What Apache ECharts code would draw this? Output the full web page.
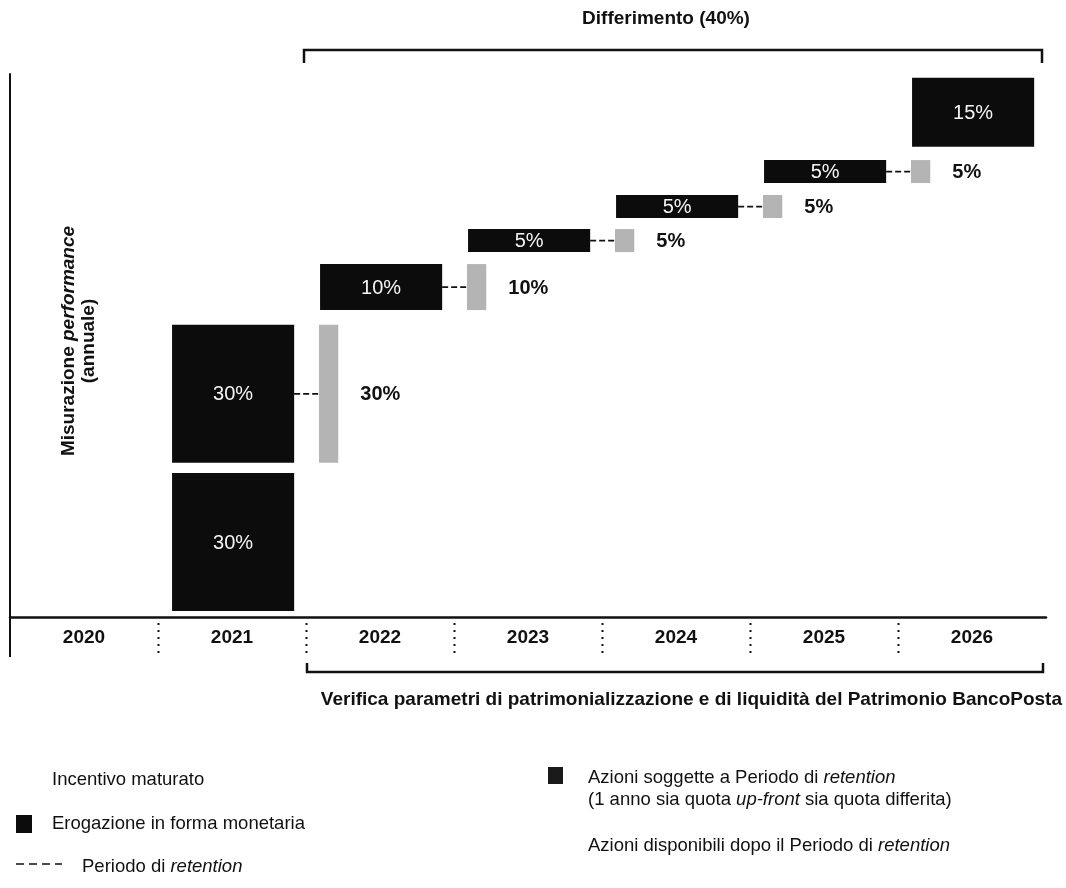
<!DOCTYPE html>
<html>
<head>
<meta charset="utf-8">
<script src="https://cdn.jsdelivr.net/npm/echarts@6/dist/echarts.min.js"></script>
<style>
html,body{margin:0;padding:0;background:#fff;}
#chart{width:1066px;height:888px;}
</style>
</head>
<body>
<div id="chart"></div>
<script>
// ---- data ----
const years = ['2020', '2021', '2022', '2023', '2024', '2025', '2026'];
const barYearIdx = [1, 1, 2, 3, 4, 5, 6];
const barStart = [1.3, 33.5, 66.7, 79.3, 86.7, 94.3, 102.2];
const barValue = [30, 30, 10, 5, 5, 5, 15];
const barLabels = ['30%', '30%', '10%', '5%', '5%', '5%', '15%'];
const hasRetention = [0, 1, 1, 1, 1, 1, 0];
const separatorIdx = [1, 2, 3, 4, 5, 6];

const FONT = '"Liberation Sans", Arial, Helvetica, sans-serif';
const INK = '#111111';

const barData = barYearIdx.map((c, i) => [c, barStart[i], barValue[i], hasRetention[i], i]);

const chart = echarts.init(document.getElementById('chart'), null, {renderer: 'canvas'});

function renderBar(params, api) {
  const idx = api.value(0);
  const start = api.value(1);
  const val = api.value(2);
  const ret = api.value(3);
  const li = api.value(4);
  const bw = api.size([1, 0])[0];
  const p0 = api.coord([idx, start]);
  const p1 = api.coord([idx, start + val]);
  const left = p0[0] - bw / 2 + bw * 0.095;
  const width = bw * 0.825;
  const top = p1[1];
  const h = p0[1] - p1[1];
  const midY = top + h / 2;
  const children = [
    {type: 'rect', shape: {x: left, y: top, width: width, height: h},
     style: {fill: '#0c0c0c'}},
    {type: 'text', x: left + width / 2, y: midY + 1,
     style: {text: barLabels[li], fill: '#f4f4f4', font: '20px ' + FONT,
             align: 'center', verticalAlign: 'middle'}}
  ];
  if (ret) {
    const gx = p0[0] + bw / 2 + bw * 0.088;
    const gw = bw * 0.13;
    children.push(
      {type: 'line', shape: {x1: left + width, y1: midY, x2: gx, y2: midY},
       style: {stroke: INK, lineWidth: 1.8, lineDash: [6, 3]}},
      {type: 'rect', shape: {x: gx, y: top, width: gw, height: h},
       style: {fill: '#b4b4b4'}},
      {type: 'text', x: gx + gw + 22, y: midY + 1,
       style: {text: barLabels[li], fill: INK, font: 'bold 20px ' + FONT,
               align: 'left', verticalAlign: 'middle'}}
    );
  }
  return {type: 'group', children: children};
}

function renderSep(params, api) {
  const idx = api.value(0);
  const bw = api.size([1, 0])[0];
  const p = api.coord([idx, 0]);
  const x = Math.round(p[0] - bw / 2) + 0.5;
  return {type: 'line', shape: {x1: x, y1: p[1] + 6, x2: x, y2: p[1] + 41},
          style: {stroke: INK, lineWidth: 2, lineDash: [2, 5]}};
}

const italicRich = {i: {fontStyle: 'italic', fontSize: 18.5, fontFamily: FONT, fill: INK}};

const option = {
  backgroundColor: '#ffffff',
  animation: false,
  grid: {left: 10, right: 20, top: 74, bottom: 271, containLabel: false},
  xAxis: {
    type: 'category',
    data: years,
    boundaryGap: true,
    axisLine: {show: true, lineStyle: {color: INK, width: 2.5}},
    axisTick: {show: false},
    axisLabel: {color: INK, fontFamily: FONT, fontWeight: 'bold', fontSize: 19, margin: 11},
    splitLine: {show: false}
  },
  yAxis: {
    type: 'value',
    min: 0,
    max: 118,
    axisLine: {show: true, lineStyle: {color: INK, width: 2}},
    axisTick: {show: false},
    axisLabel: {show: false},
    splitLine: {show: false}
  },
  series: [
    {type: 'custom', name: 'bars', renderItem: renderBar, data: barData, clip: false,
     encode: {x: 0, y: [1, 2]}},
    {type: 'custom', name: 'separators', renderItem: renderSep,
     data: separatorIdx.map(v => [v]), clip: false, encode: {x: 0}}
  ],
  graphic: [
    // y-axis title
    {type: 'text', x: 79, y: 341, rotation: Math.PI / 2,
     style: {text: '{b|Misurazione }{bi|performance}\n{b|(annuale)}',
             rich: {
               b: {fontWeight: 'bold', fontSize: 19, fontFamily: FONT, fill: INK, lineHeight: 20},
               bi: {fontWeight: 'bold', fontStyle: 'italic', fontSize: 19, fontFamily: FONT, fill: INK, lineHeight: 20}
             },
             fontWeight: 'bold', fontSize: 19, fontFamily: FONT, fill: INK,
             align: 'center', verticalAlign: 'middle', lineHeight: 20}},
    // axis extensions
    {type: 'line', shape: {x1: 10, y1: 617, x2: 10, y2: 657}, style: {stroke: INK, lineWidth: 2}},
    // top bracket
    {type: 'polyline', shape: {points: [[304, 63], [304, 50], [1042, 50], [1042, 63]]},
     style: {stroke: INK, lineWidth: 2.5, fill: null}},
    {type: 'text', x: 666, y: 19,
     style: {text: 'Differimento (40%)', font: 'bold 19px ' + FONT, fill: INK, align: 'center', verticalAlign: 'middle'}},
    // bottom bracket
    {type: 'polyline', shape: {points: [[307, 663], [307, 672], [1043, 672], [1043, 663]]},
     style: {stroke: INK, lineWidth: 2.5, fill: null}},
    {type: 'text', x: 1062, y: 700,
     style: {text: 'Verifica parametri di patrimonializzazione e di liquidità del Patrimonio BancoPosta',
             font: 'bold 19px ' + FONT, fill: INK, align: 'right', verticalAlign: 'middle'}},
    // legend left
    {type: 'text', x: 52, y: 780,
     style: {text: 'Incentivo maturato', font: '18.5px ' + FONT, fill: INK, verticalAlign: 'middle'}},
    {type: 'rect', shape: {x: 16, y: 815, width: 16, height: 18}, style: {fill: '#0c0c0c'}},
    {type: 'text', x: 52, y: 824,
     style: {text: 'Erogazione in forma monetaria', font: '18.5px ' + FONT, fill: INK, verticalAlign: 'middle'}},
    {type: 'line', shape: {x1: 16, y1: 864, x2: 62, y2: 864},
     style: {stroke: INK, lineWidth: 1.6, lineDash: [8, 5]}},
    {type: 'text', x: 82, y: 867,
     style: {text: 'Periodo di {i|retention}', rich: italicRich,
             font: '18.5px ' + FONT, fill: INK, verticalAlign: 'middle'}},
    // legend right
    {type: 'rect', shape: {x: 548, y: 767, width: 15, height: 17}, style: {fill: '#1a1a1a'}},
    {type: 'text', x: 588, y: 778,
     style: {text: 'Azioni soggette a Periodo di {i|retention}', rich: italicRich,
             font: '18.5px ' + FONT, fill: INK, verticalAlign: 'middle'}},
    {type: 'text', x: 588, y: 800,
     style: {text: '(1 anno sia quota {i|up-front} sia quota differita)', rich: italicRich,
             font: '18.5px ' + FONT, fill: INK, verticalAlign: 'middle'}},
    {type: 'text', x: 588, y: 846,
     style: {text: 'Azioni disponibili dopo il Periodo di {i|retention}', rich: italicRich,
             font: '18.5px ' + FONT, fill: INK, verticalAlign: 'middle'}}
  ]
};

chart.setOption(option);
</script>
</body>
</html>
